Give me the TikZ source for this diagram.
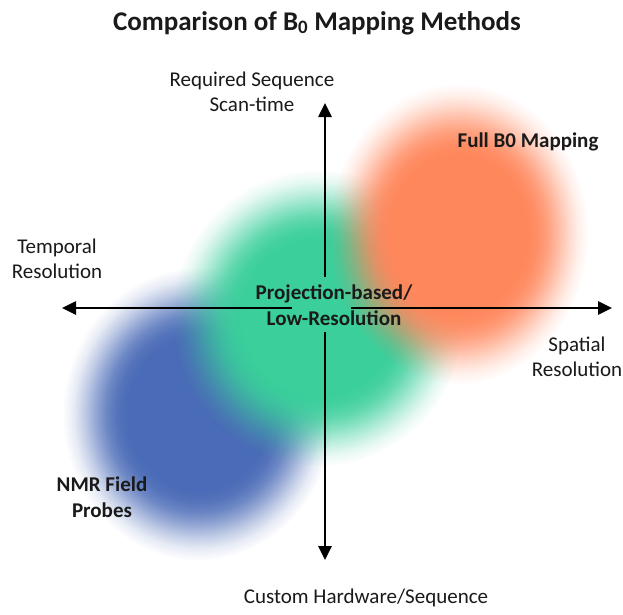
\documentclass[tikz,border=0pt]{standalone}
\usepackage{fontspec}
\setmainfont{Carlito}
\usetikzlibrary{arrows.meta,fadings}

\definecolor{blobblue}{HTML}{4A6BB7}
\definecolor{blobgreen}{HTML}{3ACF9B}
\definecolor{bloborange}{HTML}{FF875C}
\definecolor{inkgray}{HTML}{1A1A1A}

% opaque core, blurred rim
\pgfdeclareradialshading{softedge}{\pgfpointorigin}{%
  color(0bp)=(pgftransparent!0);
  color(13bp)=(pgftransparent!0);
  color(15bp)=(pgftransparent!6);
  color(17bp)=(pgftransparent!20);
  color(19bp)=(pgftransparent!42);
  color(21bp)=(pgftransparent!66);
  color(23bp)=(pgftransparent!87);
  color(25bp)=(pgftransparent!100);
  color(50bp)=(pgftransparent!100)}
\pgfdeclarefading{soft blob}{\pgfuseshading{softedge}}

\tikzset{
  blob/.style={fill=#1, path fading=soft blob},
  axis/.style={line width=2.6pt, draw=black, -{Triangle[length=14pt,width=13pt]}},
  lbl/.style={font=\fontsize{21}{25.5}\selectfont, text=inkgray, align=center, inner sep=0pt},
  lblbold/.style={lbl, font=\fontsize{21}{25.5}\selectfont\bfseries},
}

\begin{document}
\begin{tikzpicture}[x=1pt, y=-1pt]
\def\xl{62}
\def\xc{325}
\def\xr{612}
\def\yt{103}
\def\ym{308}
\def\yb{560}

\fill[white] (0,0) rectangle (623,614);
\useasboundingbox (0,0) rectangle (623,614);

% the three methods
\fill[blob=blobblue] (198,414) ellipse (135 and 146);
\fill[blob=blobgreen] (318,318) ellipse (146 and 148);
\fill[blob=bloborange] (458,234) ellipse (130 and 150);

% axes, broken round the centre label
\coordinate (tipl) at (\xl,\ym);
\coordinate (tipr) at (\xr,\ym);
\coordinate (tipt) at (\xc,\yt);
\coordinate (tipb) at (\xc,\yb);
\coordinate (gapl) at (292,\ym);
\coordinate (gapr) at (351,\ym);
\coordinate (gapt) at (\xc,277);
\coordinate (gapb) at (\xc,332);

\draw[axis] (gapl) -- (tipl);
\draw[axis] (gapr) -- (tipr);
\draw[axis] (gapt) -- (tipt);
\draw[axis] (gapb) -- (tipb);

\node[font=\fontsize{27}{32}\selectfont\bfseries, text=inkgray, anchor=base] (title) at (317,30)
  {Comparison of B\textsubscript{0} Mapping Methods};

\node[lbl] (scan) at (252,92) {Required Sequence\\Scan-time};
\node[lbl] (temporal) at (57,259) {Temporal\\Resolution};
\node[lbl] (spatial) at (577,357) {Spatial\\Resolution};
\node[lbl] (custom) at (366,598) {Custom Hardware/Sequence};

\node[lblbold] (full) at (528,142) {Full B0 Mapping};
\node[lblbold] (proj) at (334,305) {Projection-based/\\Low-Resolution};
\node[lblbold] (nmr) at (102,497) {NMR Field\\Probes};

\end{tikzpicture}
\end{document}
